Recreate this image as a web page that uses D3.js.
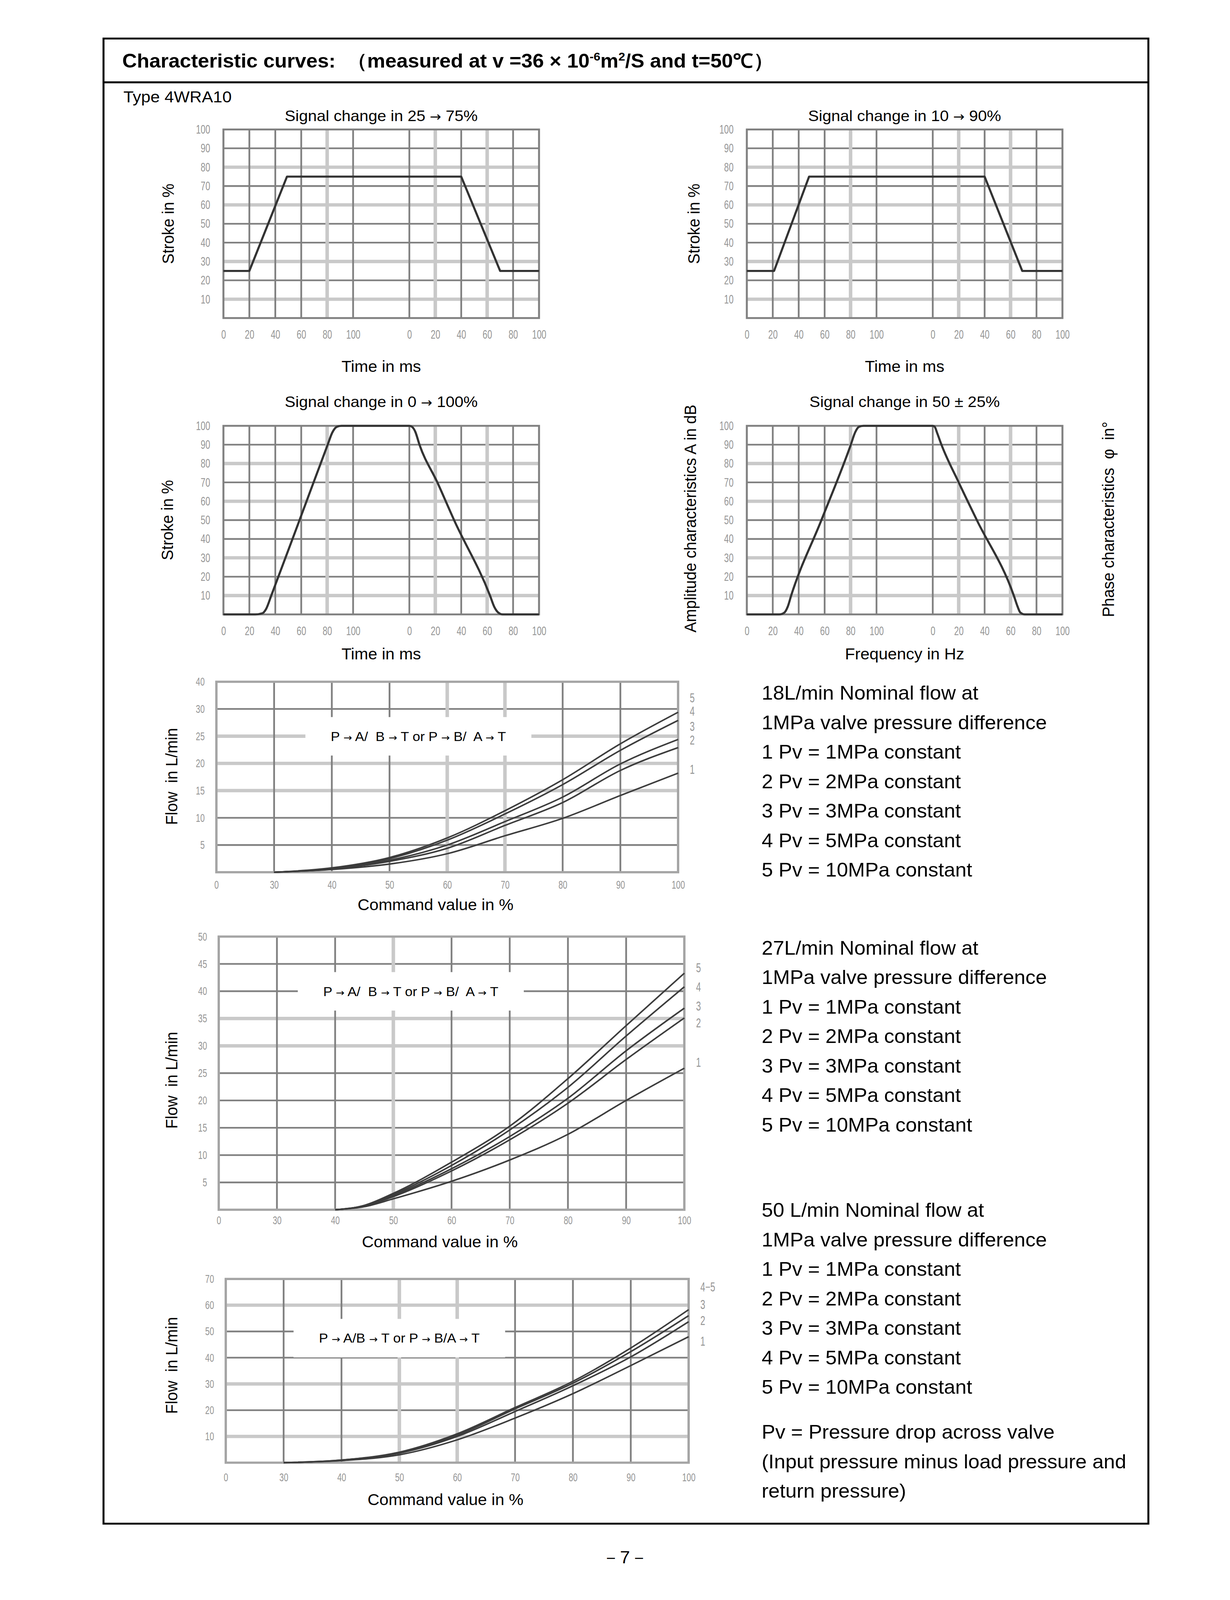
<!DOCTYPE html>
<html>
<head>
<meta charset="utf-8">
<script src="https://cdn.jsdelivr.net/npm/d3@7"></script>
<style>
html, body { margin: 0; padding: 0; background: #fff; overflow: hidden; }
svg { display: block; }
text { font-family: "Liberation Sans", Arial, sans-serif; fill: #000; white-space: pre; }
.tick text, .num { font-family: "Liberation Sans", Arial, sans-serif; fill: #969696; }
</style>
</head>
<body>
<script>
// ---- step response data (time in ms, stroke in %) ----
var timeTicks = [0, 20, 40, 60, 80, 100],
    strokeTicks = [10, 20, 30, 40, 50, 60, 70, 80, 90, 100],
    stepTitles = ["Signal change in 25 \u2192 75%", "Signal change in 10 \u2192 90%",
                  "Signal change in 0 \u2192 100%", "Signal change in 50 \u00b1 25%"];

var rise25 = [[0, 25], [20, 25], [49, 75], [100, 75]],
    fall25 = [[0, 75], [40, 75], [70, 25], [100, 25]],
    rise10 = [[0, 25], [21, 25], [48, 75], [100, 75]],
    fall10 = [[0, 75], [40, 75], [69, 25], [100, 25]],
    rise0 = [[0, 0], [24.5, 0], [30, 0.6], [33, 3], [36.9, 10], [58.7, 50], [80.4, 90], [84, 96.5], [87.5, 99.5], [91, 100], [100, 100]],
    fall0 = [[0, 100], [2, 99.5], [4.5, 97], [7.8, 90], [21.6, 70], [34.5, 50], [62.2, 10], [65.5, 4], [68.5, 1], [72, 0], [100, 0]],
    rise50 = [[0, 0], [25, 0], [29, 1], [31.5, 4], [34.2, 10], [57.5, 50], [80.2, 90], [83.5, 96.5], [86.5, 99.5], [90, 100], [100, 100]],
    fall50 = [[0, 100], [1.5, 99.5], [3.5, 96], [6.7, 90], [20, 70], [34, 50], [62.5, 10], [65.5, 4], [67.5, 1], [71, 0], [100, 0]];

// ---- flow curves (command value in %, flow in L/min) ----
var cmdTicks = [0, 30, 40, 50, 60, 70, 80, 90, 100];

var cmd18 = [30, 40, 50, 60, 70, 80, 90, 100],
    flow18 = [
      [0, 0.5, 1.5, 3.4, 6.7, 9.9, 14.1, 18.2],
      [0, 0.6, 2.0, 4.4, 8.6, 12.8, 18.7, 22.9],
      [0, 0.6, 2.2, 5.0, 9.3, 13.8, 19.9, 24.4],
      [0, 0.7, 2.5, 5.9, 10.7, 16.1, 22.4, 27.9],
      [0, 0.8, 2.7, 6.3, 11.3, 17.0, 23.6, 29.4]],
    flow18Ticks = [5, 10, 15, 20, 25, 30, 40],
    flow18Labels = ["5", "4", "3", "2", "1"],
    flow18LabelAt = [34, 29.6, 26.8, 24.3, 18.9];

var cmd27 = [40, 45, 50, 60, 70, 80, 90, 100],
    flow27 = [
      [0, 0.55, 2.0, 5.2, 9.1, 13.8, 20.0, 25.9],
      [0, 0.65, 2.4, 7.1, 12.8, 19.5, 27.5, 35.1],
      [0, 0.7, 2.6, 7.5, 13.4, 20.4, 29.1, 36.9],
      [0, 0.75, 2.8, 8.1, 14.6, 22.4, 31.8, 40.8],
      [0, 0.8, 3.0, 8.7, 15.3, 24.0, 33.7, 43.3]],
    flow27Ticks = [5, 10, 15, 20, 25, 30, 35, 40, 45, 50],
    flow27Labels = ["5", "4", "3", "2", "1"],
    flow27LabelAt = [44.3, 40.8, 37.3, 34.2, 27.0];

var cmd50 = [30, 40, 50, 60, 70, 80, 90, 100],
    flow50 = [
      [0, 0.8, 3.0, 8.7, 17.0, 26.3, 37.0, 48.0],
      [0, 0.9, 3.6, 10.0, 19.5, 29.3, 40.3, 53.7],
      [0, 1.0, 3.8, 10.5, 20.5, 30.3, 42.3, 56.0],
      [0, 1.0, 4.0, 11.0, 21.0, 31.0, 43.7, 58.3]],
    flow50Ticks = [10, 20, 30, 40, 50, 60, 70],
    flow50Labels = ["4\u22125", "3", "2", "1"],
    flow50LabelAt = [67, 60.3, 54.2, 46.3];

var block18 = ["18L/min Nominal flow at", "1MPa valve pressure difference", "1 Pv = 1MPa constant",
               "2 Pv = 2MPa constant", "3 Pv = 3MPa constant", "4 Pv = 5MPa constant", "5 Pv = 10MPa constant"],
    block27 = ["27L/min Nominal flow at", "1MPa valve pressure difference", "1 Pv = 1MPa constant",
               "2 Pv = 2MPa constant", "3 Pv = 3MPa constant", "4 Pv = 5MPa constant", "5 Pv = 10MPa constant"],
    block50 = ["50 L/min Nominal flow at", "1MPa valve pressure difference", "1 Pv = 1MPa constant",
               "2 Pv = 2MPa constant", "3 Pv = 3MPa constant", "4 Pv = 5MPa constant", "5 Pv = 10MPa constant"],
    noteLines = ["Pv = Pressure drop across valve", "(Input pressure minus load pressure and", "return pressure)"];

var dark = "#808080", light = "#c9c9c9", ink = "#333",
    narrow = 0.66;   // scanned tick digits are condensed

// page is laid out on a 3149x4276 sheet, fitted into whatever the viewport gives
var svg = d3.select("body").append("svg")
    .attr("width", window.innerWidth || 3149)
    .attr("height", window.innerHeight || 4276)
    .attr("viewBox", "0 0 3149 4276")
    .attr("preserveAspectRatio", "none");

svg.append("rect").attr("width", 3149).attr("height", 4276).attr("fill", "#fff");

// page frame + header
svg.append("rect")
    .attr("x", 265).attr("y", 103).attr("width", 2675).attr("height", 3969)
    .attr("fill", "none").attr("stroke", "#000").attr("stroke-width", 5);
svg.append("line")
    .attr("x1", 265).attr("x2", 2940).attr("y1", 220).attr("y2", 220)
    .attr("stroke", "#000").attr("stroke-width", 5);

var head = svg.append("text").attr("x", 313).attr("y", 181)
    .style("font-size", "52px").style("font-weight", "bold");
head.append("tspan").text("Characteristic curves:  \uff08measured at v =36 \u00d7 10");
head.append("tspan").text("-6").attr("dy", -19).style("font-size", "31px");
head.append("tspan").text("m").attr("dy", 19);
head.append("tspan").text("2").attr("dy", -19).style("font-size", "31px");
head.append("tspan").text("/S and t=50\u2103\uff09").attr("dy", 19);

svg.append("text").attr("x", 316).attr("y", 273).style("font-size", "43px").text("Type 4WRA10");
svg.append("text").attr("x", 1600).attr("y", 4178).attr("text-anchor", "middle")
    .style("font-size", "46px").text("\uff0d7\uff0d");

// text with a proper-size arrow glyph
function arrowText(sel, str, scale) {
  str.split("\u2192").forEach(function(part, i) {
    if (i > 0) sel.append("tspan").style("font-family", "'DejaVu Sans'")
      .style("font-size", scale + "em").text("\u2192");
    sel.append("tspan").text(part);
  });
}

function gridLine(g, x1, y1, x2, y2, isLight) {
  g.append("line").attr("x1", x1).attr("y1", y1).attr("x2", x2).attr("y2", y2)
    .attr("stroke", isLight ? light : dark)
    .attr("stroke-width", isLight ? 9 : 4.5);
}

function bottomAxis(sel, size) {
  sel.select(".domain").remove();
  sel.selectAll("text").style("font-size", size + "px")
    .attr("transform", "scale(" + narrow + ",1)");
}

function leftAxis(sel, size, pad) {
  sel.select(".domain").remove();
  sel.selectAll("text").style("font-size", size + "px")
    .attr("x", -pad / narrow)
    .attr("transform", "scale(" + narrow + ",1)");
}

function rotLabel(x, y, txt, size) {
  svg.append("text")
    .attr("transform", "translate(" + x + "," + y + ") rotate(-90)")
    .attr("text-anchor", "middle").style("font-size", (size || 42) + "px").text(txt);
}

// ---- step response charts ----
var segW = 332;
var stepCharts = [
  {x0: 572, x1: 1380, y0: 346, y1: 850, rise: rise25, fall: fall25, smooth: false, title: stepTitles[0], xTitle: "Time in ms", tGap: 22, xGap: 144},
  {x0: 1912, x1: 2720, y0: 346, y1: 850, rise: rise10, fall: fall10, smooth: false, title: stepTitles[1], xTitle: "Time in ms", tGap: 22, xGap: 144},
  {x0: 572, x1: 1380, y0: 1138, y1: 1642, rise: rise0, fall: fall0, smooth: true, title: stepTitles[2], xTitle: "Time in ms", tGap: 50, xGap: 120},
  {x0: 1912, x1: 2720, y0: 1138, y1: 1642, rise: rise50, fall: fall50, smooth: true, title: stepTitles[3], xTitle: "Frequency in Hz", tGap: 50, xGap: 120}
];
var stepLightH = [10, 30, 60, 80], stepLightA = [80], stepLightB = [20, 60];

stepCharts.forEach(function(c) {
  var xA = d3.scaleLinear().domain([0, 100]).range([c.x0, c.x0 + segW]),
      xB = d3.scaleLinear().domain([0, 100]).range([c.x1 - segW, c.x1]),
      y = d3.scaleLinear().domain([0, 100]).range([c.y1, c.y0]);
  var g = svg.append("g");

  strokeTicks.slice(0, 9).forEach(function(v) {
    gridLine(g, c.x0, y(v), c.x1, y(v), stepLightH.indexOf(v) >= 0);
  });
  timeTicks.slice(1).forEach(function(t) {
    gridLine(g, xA(t), c.y0, xA(t), c.y1, stepLightA.indexOf(t) >= 0);
  });
  timeTicks.slice(0, 5).forEach(function(t) {
    gridLine(g, xB(t), c.y0, xB(t), c.y1, stepLightB.indexOf(t) >= 0);
  });
  g.append("rect").attr("x", c.x0).attr("y", c.y0)
    .attr("width", c.x1 - c.x0).attr("height", c.y1 - c.y0)
    .attr("fill", "none").attr("stroke", dark).attr("stroke-width", 5);

  g.append("g").attr("transform", "translate(0," + c.y1 + ")")
    .call(d3.axisBottom(xA).tickValues(timeTicks).tickSize(0).tickPadding(32))
    .call(bottomAxis, 33);
  g.append("g").attr("transform", "translate(0," + c.y1 + ")")
    .call(d3.axisBottom(xB).tickValues(timeTicks).tickSize(0).tickPadding(32))
    .call(bottomAxis, 33);
  g.append("g").attr("transform", "translate(" + c.x0 + ",0)")
    .call(d3.axisLeft(y).tickValues(strokeTicks).tickSize(0))
    .call(leftAxis, 33, 34);

  var pts = c.rise.map(function(d) { return [xA(d[0]), y(d[1])]; })
    .concat(c.fall.map(function(d) { return [xB(d[0]), y(d[1])]; }));
  g.append("path")
    .attr("d", d3.line().curve(c.smooth ? d3.curveMonotoneX : d3.curveLinear)(pts))
    .attr("fill", "none").attr("stroke", ink).attr("stroke-width", 5.5)
    .attr("stroke-linejoin", "round");

  var cx = (c.x0 + c.x1) / 2;
  svg.append("text").attr("x", cx).attr("y", c.y0 - c.tGap).attr("text-anchor", "middle")
    .style("font-size", "41px").call(arrowText, c.title, 0.85);
  svg.append("text").attr("x", cx).attr("y", c.y1 + c.xGap).attr("text-anchor", "middle")
    .style("font-size", "42px").text(c.xTitle);
});

rotLabel(445, 598, "Stroke in %");
rotLabel(1791, 598, "Stroke in %");
rotLabel(443, 1390, "Stroke in %");
rotLabel(1782, 1386, "Amplitude characteristics A in dB");
rotLabel(2852, 1388, "Phase characteristics  \u03c6  in\u00b0");

// ---- flow charts ----
var flowCharts = [
  {x0: 554, x1: 1736, y0: 1822, y1: 2331, cmd: cmd18, series: flow18, yTicks: flow18Ticks,
   yDom: [0, 5, 10, 15, 20, 25, 30, 40], labels: flow18Labels, labelAt: flow18LabelAt,
   lightH: [15, 20, 25], lightV: [60, 70], pad: 22,
   note: "P \u2192 A/  B \u2192 T or P \u2192 B/  A \u2192 T", noteAt: [55, 25],
   yLabelY: 2075, titleY: 2432},
  {x0: 560, x1: 1752, y0: 2503, y1: 3233, cmd: cmd27, series: flow27, yTicks: flow27Ticks,
   yDom: [0, 50], labels: flow27Labels, labelAt: flow27LabelAt,
   lightH: [30, 35], lightV: [50], pad: 17,
   note: "P \u2192 A/  B \u2192 T or P \u2192 B/  A \u2192 T", noteAt: [53, 40],
   yLabelY: 2887, titleY: 3333},
  {x0: 578, x1: 1763, y0: 3418, y1: 3909, cmd: cmd50, series: flow50, yTicks: flow50Ticks,
   yDom: [0, 70], labels: flow50Labels, labelAt: flow50LabelAt,
   lightH: [10, 30, 60], lightV: [50, 60], pad: 28,
   note: "P \u2192 A/B \u2192 T or P \u2192 B/A \u2192 T", noteAt: [50, 47.5],
   yLabelY: 3649, titleY: 4022}
];

flowCharts.forEach(function(c) {
  var x = d3.scaleLinear().domain(cmdTicks)
      .range(cmdTicks.map(function(d, i) { return c.x0 + i * (c.x1 - c.x0) / (cmdTicks.length - 1); }));
  var n = c.yDom.length - 1;
  var y = d3.scaleLinear().domain(c.yDom)
      .range(c.yDom.map(function(d, i) { return c.y1 - i * (c.y1 - c.y0) / n; }));
  var g = svg.append("g");

  c.yTicks.slice(0, -1).forEach(function(v) {
    gridLine(g, c.x0, y(v), c.x1, y(v), c.lightH.indexOf(v) >= 0);
  });
  cmdTicks.slice(1, -1).forEach(function(v) {
    gridLine(g, x(v), c.y0, x(v), c.y1, c.lightV.indexOf(v) >= 0);
  });
  g.append("rect").attr("x", c.x0).attr("y", c.y0)
    .attr("width", c.x1 - c.x0).attr("height", c.y1 - c.y0)
    .attr("fill", "none").attr("stroke", "#a5a5a5").attr("stroke-width", 6);

  g.append("g").attr("transform", "translate(0," + c.y1 + ")")
    .call(d3.axisBottom(x).tickValues(cmdTicks).tickSize(0).tickPadding(c.pad))
    .call(bottomAxis, 31);
  g.append("g").attr("transform", "translate(" + c.x0 + ",0)")
    .call(d3.axisLeft(y).tickValues(c.yTicks).tickSize(0))
    .call(leftAxis, 31, 30);

  // white label box over the grid
  var nx = x(c.noteAt[0]), ny = y(c.noteAt[1]);
  var note = g.append("text").attr("x", nx).attr("y", ny).attr("dy", "0.36em")
      .attr("text-anchor", "middle").style("font-size", "35px").call(arrowText, c.note, 0.75);
  var bb = note.node().getBBox();
  g.insert("rect", function() { return note.node(); })
    .attr("x", bb.x - 65).attr("y", bb.y - 32)
    .attr("width", bb.width + 130).attr("height", bb.height + 64)
    .attr("fill", "#fff");

  var line = d3.line()
      .x(function(d) { return x(d[0]); })
      .y(function(d) { return y(d[1]); })
      .curve(d3.curveMonotoneX);
  g.selectAll("path.flow").data(c.series).enter().append("path")
    .attr("class", "flow")
    .attr("d", function(s) { return line(c.cmd.map(function(v, i) { return [v, s[i]]; })); })
    .attr("fill", "none").attr("stroke", "#3c3c3c").attr("stroke-width", 4);

  g.selectAll("text.num").data(c.labels).enter().append("text")
    .attr("class", "num")
    .attr("x", (c.x1 + 30) / narrow)
    .attr("y", function(d, i) { return y(c.labelAt[i]); })
    .attr("dy", "0.35em")
    .attr("transform", "scale(" + narrow + ",1)")
    .style("font-size", "34px")
    .text(function(d) { return d; });

  svg.append("text").attr("x", (c.x0 + c.x1) / 2 - 30).attr("y", c.titleY)
    .attr("text-anchor", "middle").style("font-size", "42px").text("Command value in %");
  rotLabel(454, c.yLabelY, "Flow  in L/min");
});

// ---- right-hand notes ----
function block(lines, y0) {
  svg.append("g").selectAll("text").data(lines).enter().append("text")
    .attr("x", 1950)
    .attr("y", function(d, i) { return y0 + i * 78.8; })
    .style("font-size", "52px")
    .text(function(d) { return d; });
}
block(block18, 1870);
block(block27, 2551);
block(block50, 3252);
block(noteLines, 3845);
</script>
</body>
</html>
